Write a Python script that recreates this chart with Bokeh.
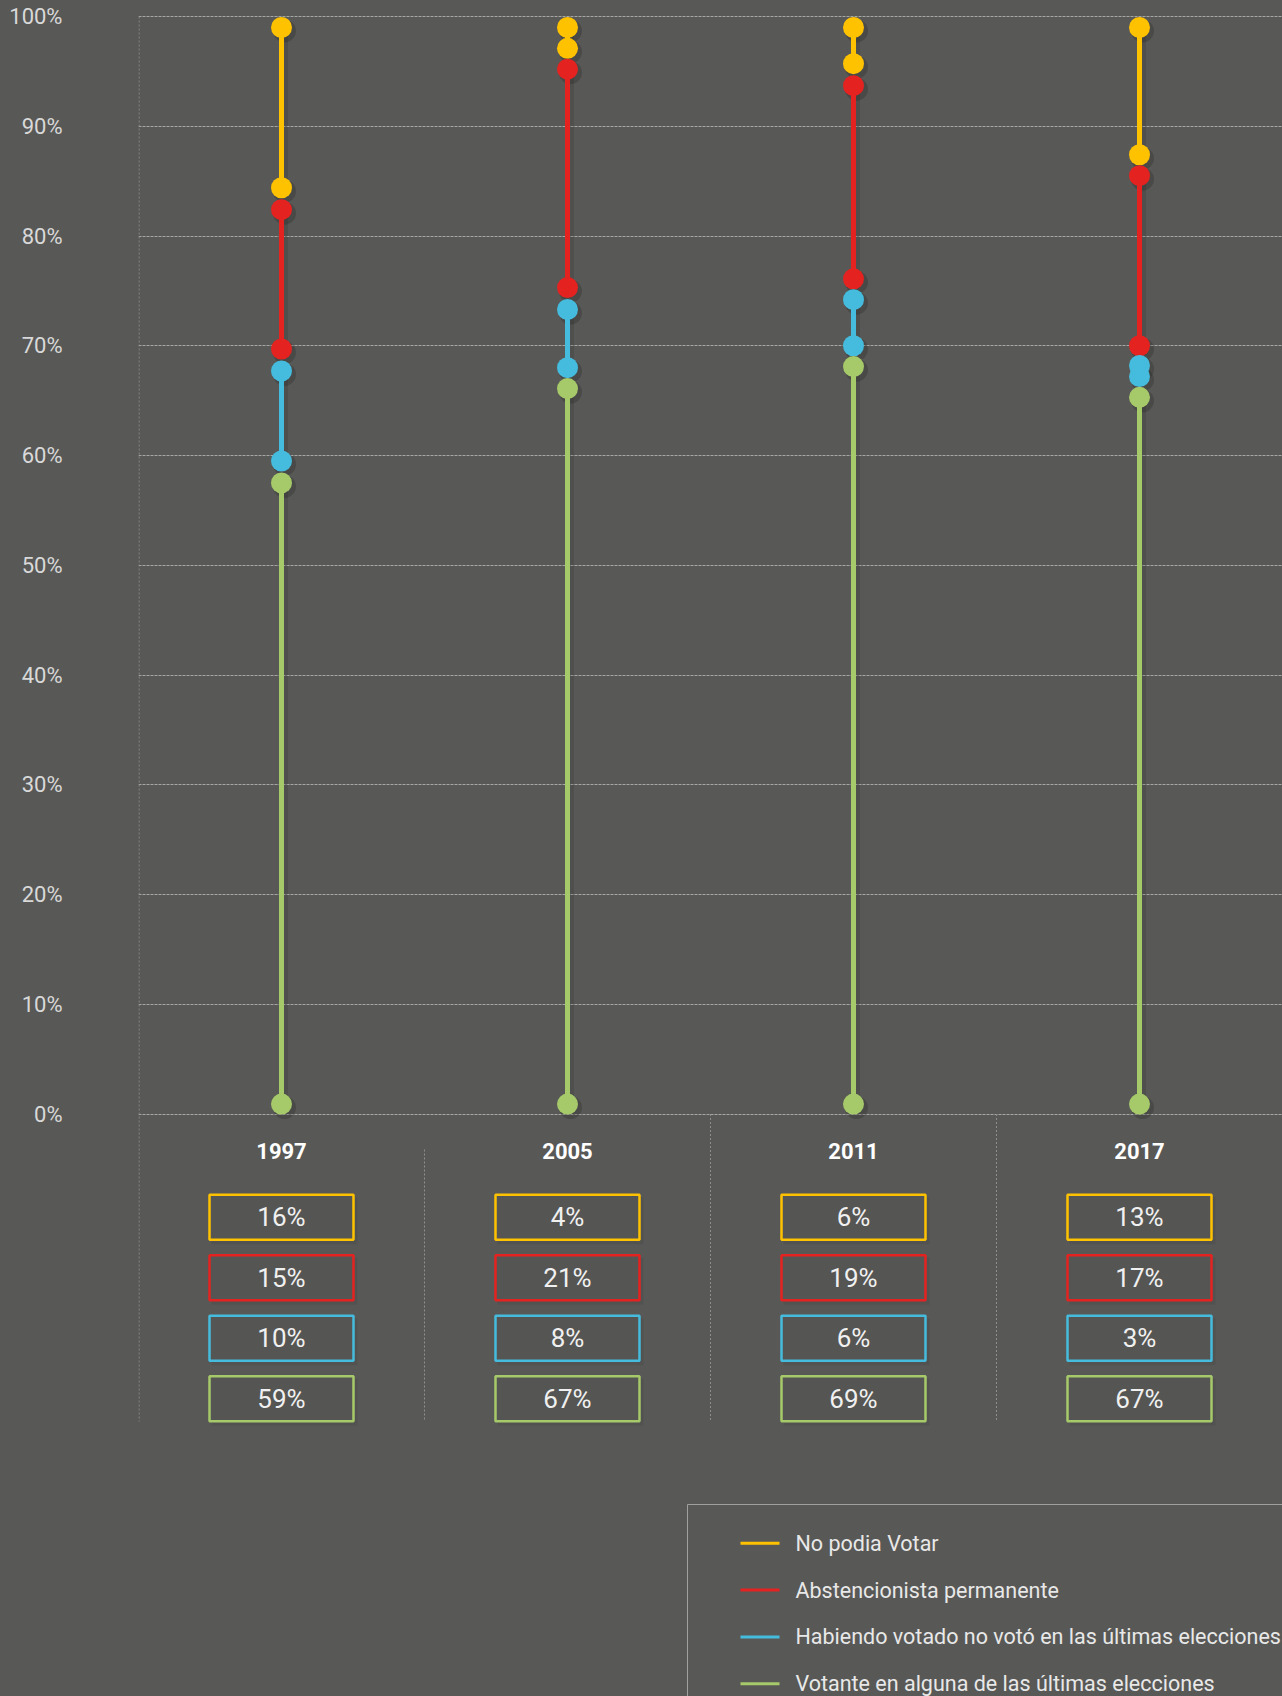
from bokeh.plotting import figure
from bokeh.models import Range1d, FixedTicker, PrintfTickFormatter
from bokeh.core.properties import value
from bokeh.embed import file_html
from bokeh.resources import INLINE

# ---------------- data ----------------
years = ["1997", "2005", "2011", "2017"]
series_names = [
    "No podia Votar",
    "Abstencionista permanente",
    "Habiendo votado no votó en las últimas elecciones",
    "Votante en alguna de las últimas elecciones",
]
series_colors = ["#FFC200", "#E42320", "#45BCDD", "#A6C96A"]

# dumbbell ends (percent of the 0-100 scale)
no_podia_top = [99.0, 99.0, 99.0, 99.0]
no_podia_bottom = [84.4, 97.1, 95.7, 87.4]
abst_top = [82.4, 95.2, 93.7, 85.5]
abst_bottom = [69.7, 75.3, 76.1, 70.0]
habiendo_top = [67.7, 73.3, 74.2, 68.2]
habiendo_bottom = [59.5, 68.0, 70.0, 67.2]
votante_top = [57.5, 66.1, 68.1, 65.3]
votante_bottom = [0.9, 0.9, 0.9, 0.9]

# values written in the boxes
no_podia_pct = [16, 4, 6, 13]
abst_pct = [15, 21, 19, 17]
habiendo_pct = [10, 8, 6, 3]
votante_pct = [59, 67, 69, 67]

y_ticks = list(range(0, 101, 10))

# ---------------- layout ----------------
W, H = 1282, 1696
LEFT = 138
BG = "#585856"
FONT = "Roboto"
PX_PER_PCT = 10.975
Y100_PX = 16
y_max = 100 + Y100_PX / PX_PER_PCT
y_min = y_max - H / PX_PER_PCT
XU = (W - LEFT) / len(years)


def py(px):
    return y_max - px / PX_PER_PCT


def pxx(px):
    return (px - LEFT) / XU


xs = [i + 0.5 for i in range(len(years))]

p = figure(
    width=W, height=H,
    x_range=Range1d(0, len(years)), y_range=Range1d(y_min, y_max),
    output_backend="svg", toolbar_location=None,
    x_axis_location=None,
    min_border_left=LEFT, min_border_right=0, min_border_top=0, min_border_bottom=0,
    background_fill_color=None, border_fill_color=None, outline_line_color=None,
)

ax = p.yaxis[0]
ax.ticker = FixedTicker(ticks=y_ticks)
ax.formatter = PrintfTickFormatter(format="%d%%")
ax.major_label_text_font = FONT
ax.major_label_text_font_size = "22px"
ax.major_label_text_color = "#d9d9d9"
ax.axis_line_color = None
ax.major_tick_line_color = None
ax.minor_tick_line_color = None
ax.major_tick_in = 0
ax.major_tick_out = 0
ax.major_label_standoff = 76

p.xgrid.visible = False
p.ygrid[0].ticker = FixedTicker(ticks=y_ticks)
p.ygrid.grid_line_color = "#a6a6a4"
p.ygrid.grid_line_dash = "3 1"
p.ygrid.grid_line_width = 1

# dotted vertical separators
sep_x = [0.002, 1, 2, 3]
sep_top = [100, py(1149), 0, 0]
p.segment(x0=sep_x, y0=sep_top, x1=sep_x, y1=[py(1421)] * 4,
          line_color="#8e8e8c", line_dash="2 2", line_width=1)

tops = [no_podia_top, abst_top, habiendo_top, votante_top]
bottoms = [no_podia_bottom, abst_bottom, habiendo_bottom, votante_bottom]

# shadows
sdx = 3 / XU
sdy = 3.5 / PX_PER_PCT
xs_sh = [x + sdx for x in xs]
for top, bot in zip(tops, bottoms):
    p.segment(x0=xs_sh, y0=[t - sdy for t in top], x1=xs_sh, y1=[b - sdy for b in bot],
              line_color="black", line_alpha=0.10, line_width=7)
    p.scatter(x=xs_sh + xs_sh, y=[t - sdy for t in top] + [b - sdy for b in bot],
              size=23, fill_color="black", fill_alpha=0.16, line_color=None)

# dumbbells
for top, bot, color in zip(tops, bottoms, series_colors):
    p.segment(x0=xs, y0=top, x1=xs, y1=bot, line_color=color, line_width=5)
    p.scatter(x=xs + xs, y=top + bot, size=21, fill_color=color, line_color=None)

# year labels
p.text(x=xs, y=[py(1150)] * 4, text=years, text_align="center", text_baseline="middle",
       text_font=value(FONT), text_font_style="bold", text_font_size="22px",
       text_color="#ffffff")

# value boxes
pcts = [no_podia_pct, abst_pct, habiendo_pct, votante_pct]
for i, (vals, color) in enumerate(zip(pcts, series_colors)):
    yb = py(1216.8 + i * 60.5)
    p.rect(x=xs_sh, y=[yb - sdy] * 4, width=146, height=47, width_units="screen",
           height_units="screen", fill_color="black", fill_alpha=0.06, line_color=None)
    p.rect(x=xs, y=[yb] * 4, width=144, height=45, width_units="screen",
           height_units="screen", fill_color="#555553", line_color=color, line_width=2.5)
    p.text(x=xs, y=[yb] * 4, text=[f"{v}%" for v in vals], text_align="center",
           text_baseline="middle", text_font=value(FONT), text_font_size="26px",
           text_color="#f0f0f0")

# legend
lx = pxx(687)
ly = py(1504)
p.segment(x0=[lx, lx], y0=[ly, ly], x1=[len(years) + 0.2, lx], y1=[ly, y_min - 1],
          line_color="#a0a09e", line_width=1)
leg_y = [py(1542.8 + i * 46.8) for i in range(len(series_names))]
p.segment(x0=[pxx(740)] * 4, y0=leg_y, x1=[pxx(779)] * 4, y1=leg_y,
          line_color=series_colors, line_width=3)
p.text(x=[pxx(795)] * 4, y=leg_y, text=series_names, text_align="left",
       text_baseline="middle", text_font=value(FONT), text_font_size="21.5px",
       text_color="#e8e8e8")

html = file_html(p, INLINE)
style = "<style>html,body{margin:0;padding:0;background:%s;}</style>" % BG
html = html.replace("</head>", style + "</head>", 1)
open("out.html", "w").write(html)
